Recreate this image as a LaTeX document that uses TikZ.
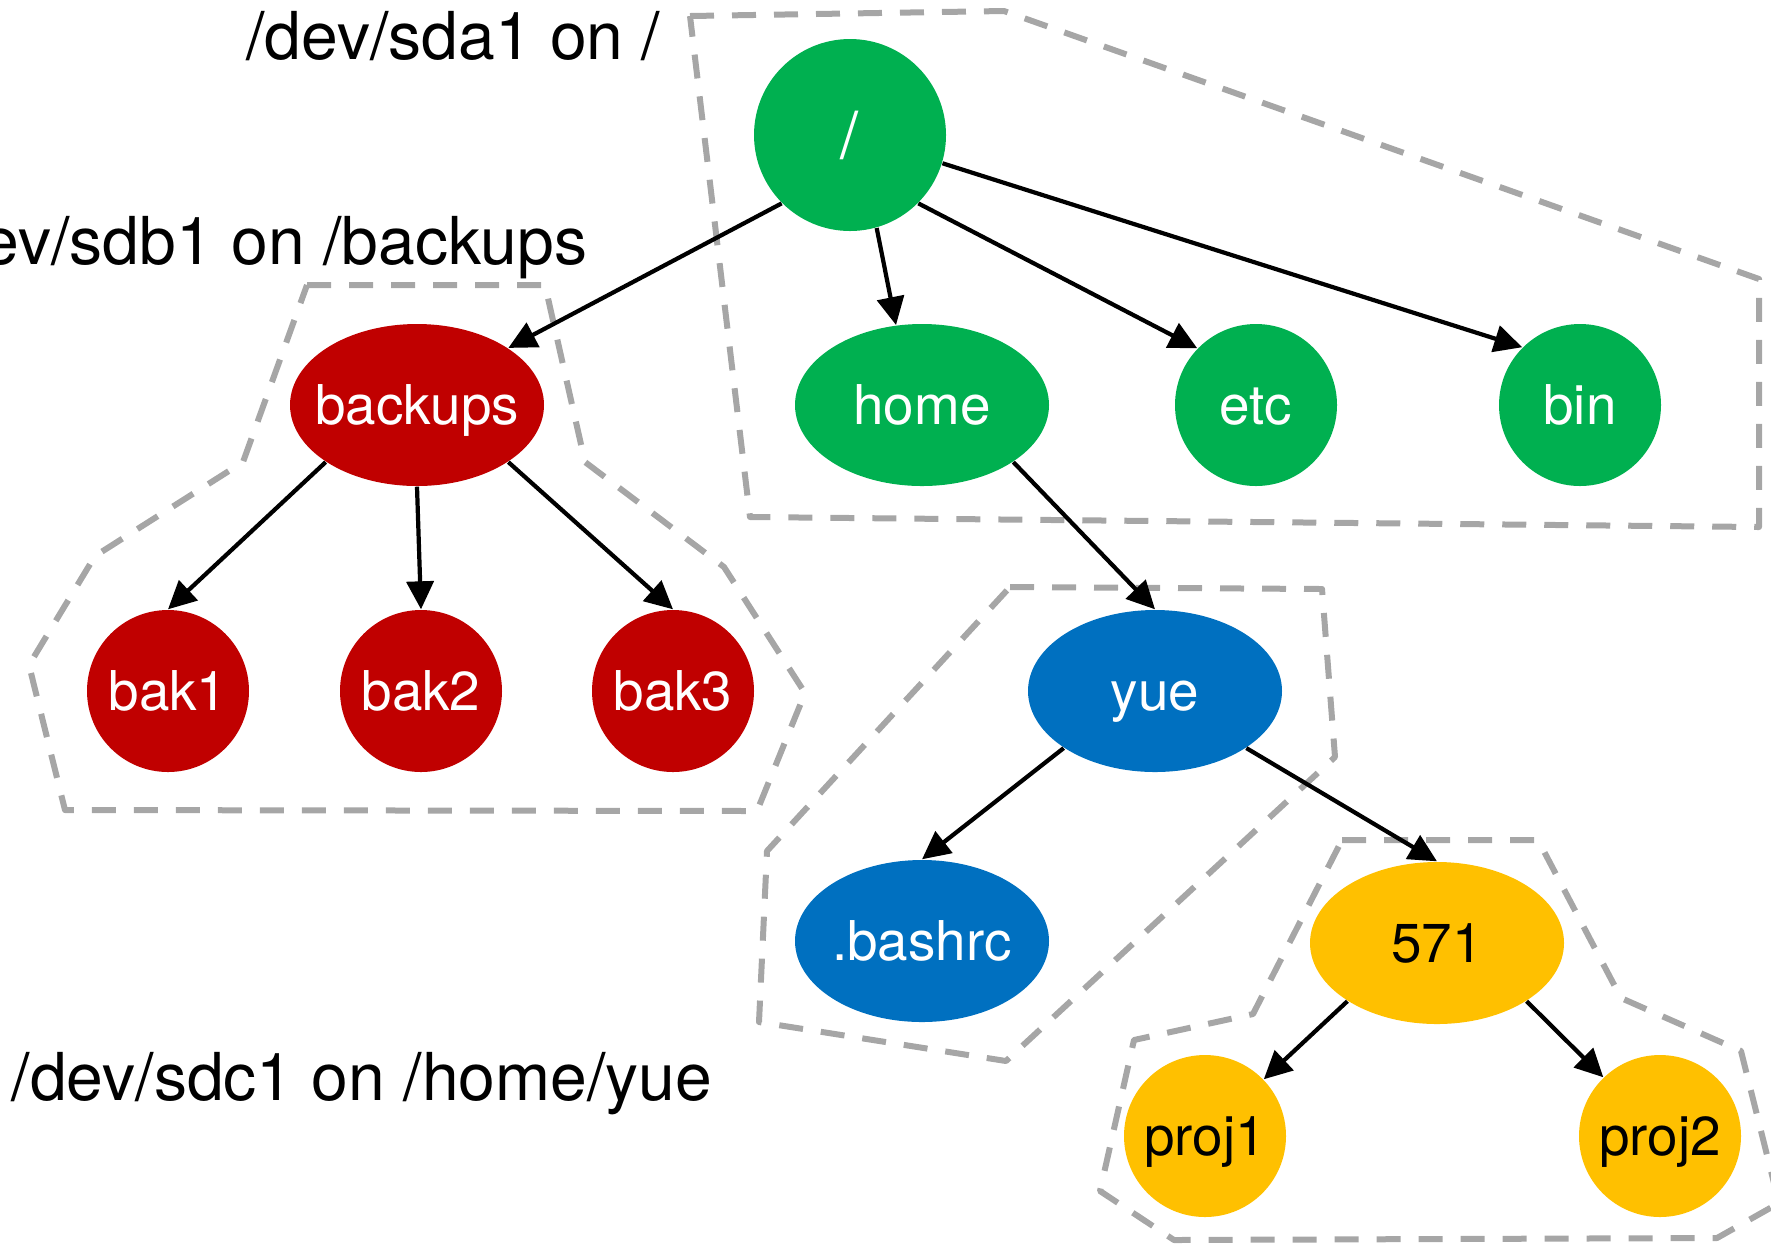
\documentclass[tikz,border=0pt]{standalone}
\usepackage{fontspec}
\setmainfont{TeX Gyre Heros}
\usepackage{xcolor}
\usepackage{tikz}
\usetikzlibrary{positioning, arrows.meta, shapes.geometric}

\definecolor{sdagreen}{RGB}{0,176,80}
\definecolor{sdbred}{RGB}{192,0,0}
\definecolor{sdcblue}{RGB}{0,112,192}
\definecolor{projyellow}{RGB}{255,192,0}
\definecolor{mountgray}{RGB}{166,166,166}

\begin{document}
\begin{tikzpicture}[
    x=0.1mm, y=-0.1mm,
    dir/.style={ellipse, minimum width=25.4mm, minimum height=16.2mm, inner xsep=-2mm, inner ysep=0pt, text height=11.2pt, text depth=0pt, text=white, font=\fontsize{15.6}{18}\selectfont},
    leaf/.style={dir, circle, minimum size=16.2mm},
    link/.style={-{Triangle[length=2.8mm, width=2.7mm]}, line width=1.2pt},
    mount/.style={draw=mountgray, line width=0.6mm, dash pattern=on 2.4mm off 1.8mm, line join=round},
    devlabel/.style={inner sep=0pt, font=\fontsize{18.8}{22}\selectfont}
]
\useasboundingbox (0,0) rectangle (1771,1245);

\draw[mount] (690,16) -- (1004,11) -- (1759,279) -- (1759,527) -- (750,517) -- cycle;
\draw[mount] (307,285) -- (545,285) -- (585,462) -- (724,567) -- (805,693) -- (757,811) -- (65,810) -- (29,665) -- (95,556) -- (243,462) -- cycle;
\draw[mount] (1010,587) -- (1322,589) -- (1335,757) -- (1006,1061) -- (759,1022) -- (767,851) -- cycle;
\draw[mount] (1342,840) -- (1538,840) -- (1621,998) -- (1741,1051) -- (1779,1203) -- (1717,1238) -- (1174,1240) -- (1100,1191) -- (1134,1040) -- (1253,1014) -- cycle;

\node[leaf, fill=sdagreen, minimum size=19.2mm, text height=13.5pt, font=\fontsize{18.5}{21}\selectfont] (root) at (850,135) {/};
\node[dir, fill=sdbred] (backups) at (417,405) {backups};
\node[dir, fill=sdagreen] (home) at (922,405) {home};
\node[leaf, fill=sdagreen] (etc) at (1256,405) {etc};
\node[leaf, fill=sdagreen] (bin) at (1580,405) {bin};
\node[leaf, fill=sdbred] (bak1) at (168,691) {bak1};
\node[leaf, fill=sdbred] (bak2) at (421,691) {bak2};
\node[leaf, fill=sdbred] (bak3) at (673,691) {bak3};
\node[dir, fill=sdcblue] (yue) at (1155,691) {yue};
\node[dir, fill=sdcblue] (bashrc) at (922,941) {.bashrc};
\node[dir, fill=projyellow, text=black] (c571) at (1437,943) {571};
\node[leaf, fill=projyellow, text=black] (proj1) at (1205,1136) {proj1};
\node[leaf, fill=projyellow, text=black] (proj2) at (1660,1136) {proj2};

\node[devlabel, anchor=base east] (sdalabel) at (661,59) {/dev/sda1 on /};
\node[devlabel, anchor=base east] (sdblabel) at (588,264) {/dev/sdb1 on /backups};
\node[devlabel, anchor=base west] (sdclabel) at (11,1100) {/dev/sdc1 on /home/yue};

\draw[link] (root.225) -- (backups.32);
\draw[link] (root.286) -- (home.108);
\draw[link] (root.315) -- (etc.136);
\draw[link] (root.343) -- (bin.135);
\draw[link] (backups.212) -- (bak1.90);
\draw[link] (backups.270) -- (bak2.90);
\draw[link] (backups.328) -- (bak3.90);
\draw[link] (home.328) -- (yue.90);
\draw[link] (yue.212) -- (bashrc.90);
\draw[link] (yue.328) -- (c571.90);
\draw[link] (c571.213) -- (proj1.44);
\draw[link] (c571.327) -- (proj2.134);

\end{tikzpicture}
\end{document}
